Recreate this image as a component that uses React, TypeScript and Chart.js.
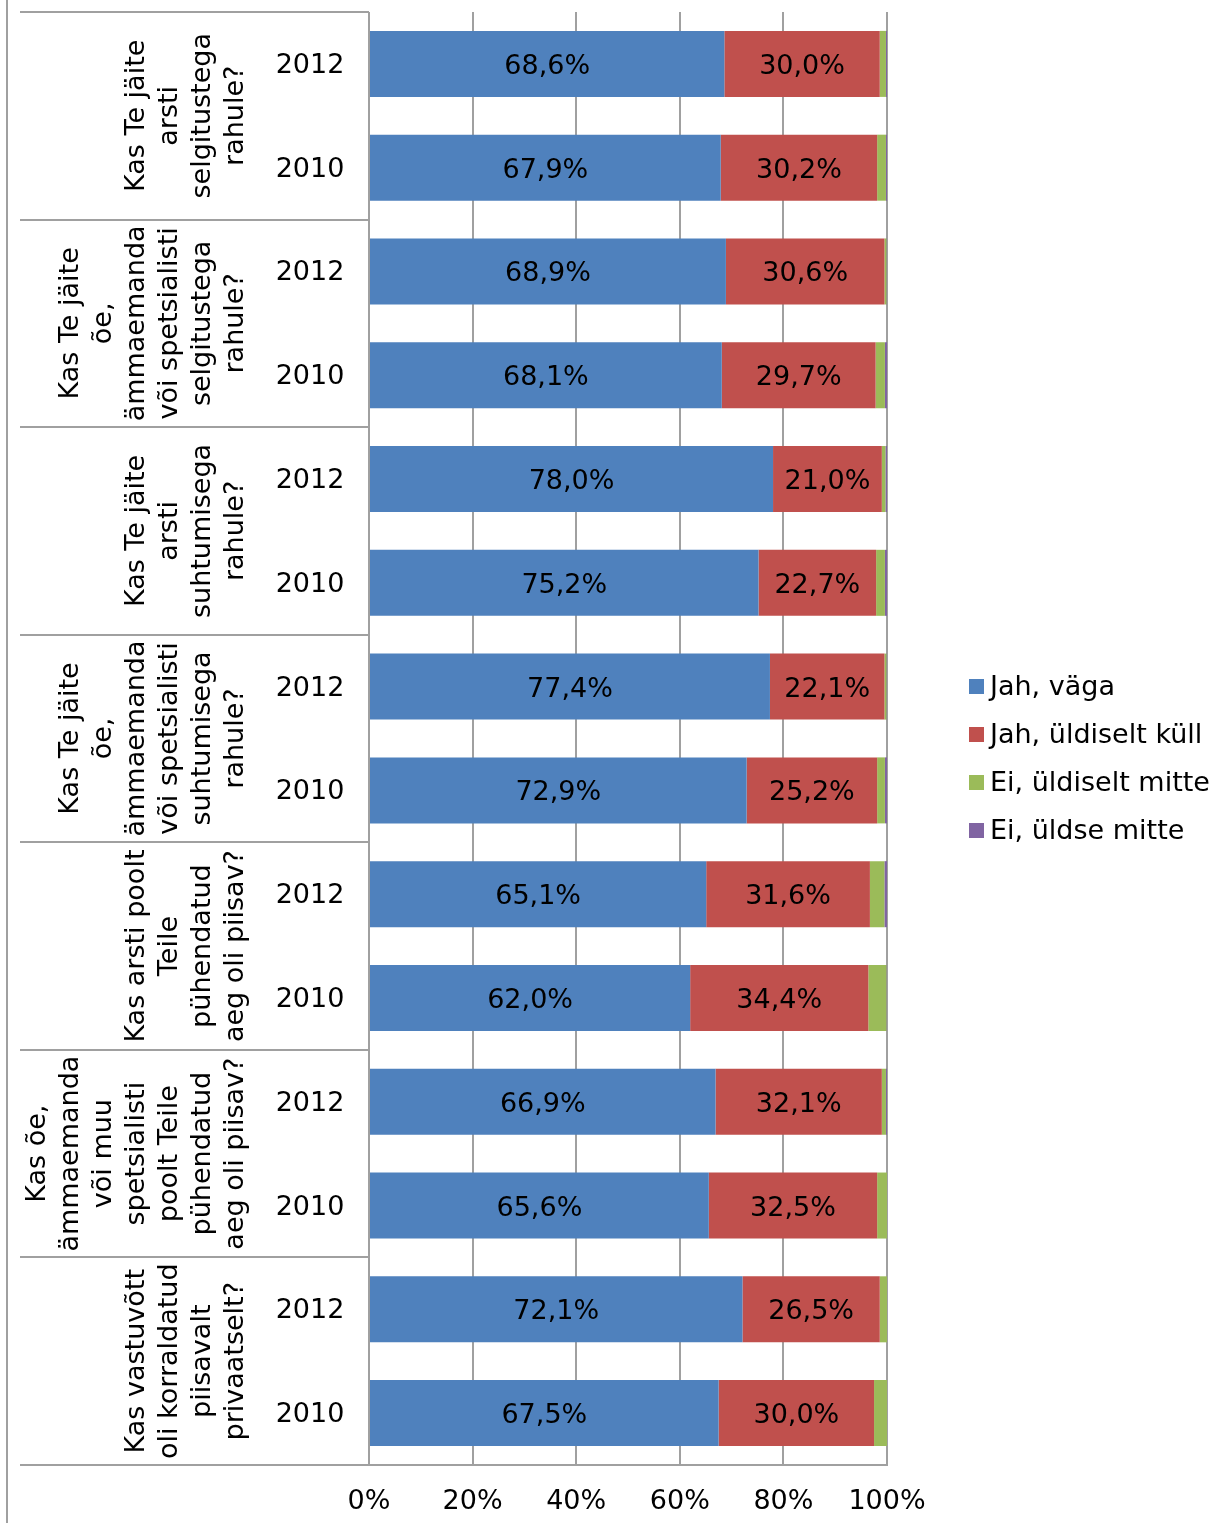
import React, { useEffect, useRef } from "react";
import { Chart, registerables } from "chart.js";

Chart.register(...registerables);

// Survey questions (one group of two years each), split into display lines
const questionLines: string[][] = [
  ["Kas Te jäite", "arsti", "selgitustega", "rahule?"],
  ["Kas Te jäite", "õe,", "ämmaemanda", "või spetsialisti", "selgitustega", "rahule?"],
  ["Kas Te jäite", "arsti", "suhtumisega", "rahule?"],
  ["Kas Te jäite", "õe,", "ämmaemanda", "või spetsialisti", "suhtumisega", "rahule?"],
  ["Kas arsti poolt", "Teile", "pühendatud", "aeg oli piisav?"],
  ["Kas õe,", "ämmaemanda", "või muu", "spetsialisti", "poolt Teile", "pühendatud", "aeg oli piisav?"],
  ["Kas vastuvõtt", "oli korraldatud", "piisavalt", "privaatselt?"],
];

const years = ["2012", "2010"];

// Row labels: each question has a 2012 row followed by a 2010 row
const rowLabels: string[] = questionLines.flatMap(() => years);

const seriesNames = ["Jah, väga", "Jah, üldiselt küll", "Ei, üldiselt mitte", "Ei, üldse mitte"];
const seriesColors = ["#4F81BD", "#C0504D", "#9BBB59", "#8064A2"];

const jahVaga = [68.6, 67.9, 68.9, 68.1, 78.0, 75.2, 77.4, 72.9, 65.1, 62.0, 66.9, 65.6, 72.1, 67.5];
const jahUldiseltKull = [30.0, 30.2, 30.6, 29.7, 21.0, 22.7, 22.1, 25.2, 31.6, 34.4, 32.1, 32.5, 26.5, 30.0];
const eiUldiseltMitte = [1.2, 1.7, 0.4, 1.8, 0.7, 1.7, 0.4, 1.5, 2.8, 3.5, 0.8, 1.9, 1.4, 2.5];
const eiUldseMitte = [0.2, 0.2, 0.1, 0.4, 0.3, 0.4, 0.1, 0.4, 0.5, 0.1, 0.2, 0.0, 0.0, 0.0];

const xTicks = [0, 20, 40, 60, 80, 100];

const FONT = "DejaVu Sans";
const FONT_SIZE = 27;
const LINE_COLOR = "#A0A0A0";
const W = 1210;
const H = 1523;

const fmt = (v: number) => v.toFixed(1).replace(".", ",") + "%";

const decorPlugin = {
  id: "decor",
  afterDatasetsDraw(chart: any) {
    const { ctx } = chart;
    ctx.save();
    ctx.font = `${FONT_SIZE}px "${FONT}"`;
    ctx.fillStyle = "#000";
    ctx.textAlign = "center";
    ctx.textBaseline = "middle";
    // value labels on the two large segments
    [0, 1].forEach((di) => {
      const meta = chart.getDatasetMeta(di);
      meta.data.forEach((bar: any, i: number) => {
        const v = chart.data.datasets[di].data[i] as number;
        const cx = (bar.x + bar.base) / 2;
        ctx.fillText(fmt(v), cx, bar.y + 3);
      });
    });
    ctx.restore();
  },
  afterDraw(chart: any) {
    const { ctx, chartArea } = chart;
    const yScale = chart.scales.y;
    ctx.save();

    // outer frame line on the left
    ctx.strokeStyle = LINE_COLOR;
    ctx.lineWidth = 2;
    ctx.beginPath();
    ctx.moveTo(7, 0);
    ctx.lineTo(7, H);
    ctx.stroke();

    // group separators in the label area
    const n = rowLabels.length;
    const bounds: number[] = [chartArea.top];
    for (let g = 1; g < questionLines.length; g++) {
      bounds.push((yScale.getPixelForValue(2 * g - 1) + yScale.getPixelForValue(2 * g)) / 2);
    }
    bounds.push(chartArea.bottom);
    bounds.forEach((y) => {
      ctx.beginPath();
      ctx.moveTo(20, Math.round(y));
      ctx.lineTo(chartArea.left, Math.round(y));
      ctx.stroke();
    });

    ctx.font = `${FONT_SIZE}px "${FONT}"`;
    ctx.fillStyle = "#000";
    ctx.textAlign = "center";
    ctx.textBaseline = "middle";

    // year labels
    for (let i = 0; i < n; i++) {
      ctx.fillText(rowLabels[i], 310, yScale.getPixelForValue(i) + 2);
    }

    // rotated question labels
    questionLines.forEach((lines, g) => {
      const cy = (bounds[g] + bounds[g + 1]) / 2;
      const lastX = 236;
      const step = 33;
      lines.forEach((line, li) => {
        const x = lastX - (lines.length - 1 - li) * step;
        ctx.save();
        ctx.translate(x, cy);
        ctx.rotate(-Math.PI / 2);
        ctx.fillText(line, 0, 0);
        ctx.restore();
      });
    });

    // legend
    const lx = 969;
    const ly0 = 686;
    const lstep = 48;
    ctx.textAlign = "left";
    seriesNames.forEach((name, i) => {
      const cy = ly0 + i * lstep;
      ctx.fillStyle = seriesColors[i];
      ctx.fillRect(lx, cy - 7, 15, 15);
      ctx.fillStyle = "#000";
      ctx.fillText(name, lx + 21, cy + 2);
    });

    ctx.restore();
  },
};

export default function App() {
  const ref = useRef<HTMLCanvasElement | null>(null);

  useEffect(() => {
    document.body.style.margin = "0";
    document.body.style.overflow = "hidden";
    const canvas = ref.current!;
    const chart = new Chart(canvas, {
      type: "bar",
      data: {
        labels: rowLabels,
        datasets: [jahVaga, jahUldiseltKull, eiUldiseltMitte, eiUldseMitte].map((d, i) => ({
          label: seriesNames[i],
          data: d,
          backgroundColor: seriesColors[i],
          borderWidth: 0,
          categoryPercentage: 1,
          barPercentage: 0.636,
        })),
      },
      options: {
        indexAxis: "y",
        responsive: false,
        animation: false,
        devicePixelRatio: 1,
        layout: { padding: { left: 369, right: W - 887, top: 12, bottom: 0 } },
        plugins: {
          legend: { display: false },
          tooltip: { enabled: false },
          title: { display: false },
        },
        scales: {
          x: {
            stacked: true,
            min: 0,
            max: 100,
            afterBuildTicks: (scale: any) => {
              scale.ticks = xTicks.map((v) => ({ value: v }));
            },
            afterFit: (scale: any) => {
              scale.height = 58;
            },
            ticks: {
              callback: (v: any) => `${v}%`,
              font: { family: FONT, size: FONT_SIZE },
              color: "#000",
              padding: 21,
              maxRotation: 0,
            },
            grid: { color: LINE_COLOR, lineWidth: 2, drawTicks: false },
            border: { display: true, color: LINE_COLOR, width: 2 },
          },
          y: {
            stacked: true,
            display: false,
          },
        },
      },
      plugins: [decorPlugin],
    } as any);
    return () => chart.destroy();
  }, []);

  return (
    <div style={{ width: W, height: H }}>
      <canvas ref={ref} width={W} height={H} style={{ display: "block", width: W, height: H }} />
    </div>
  );
}
